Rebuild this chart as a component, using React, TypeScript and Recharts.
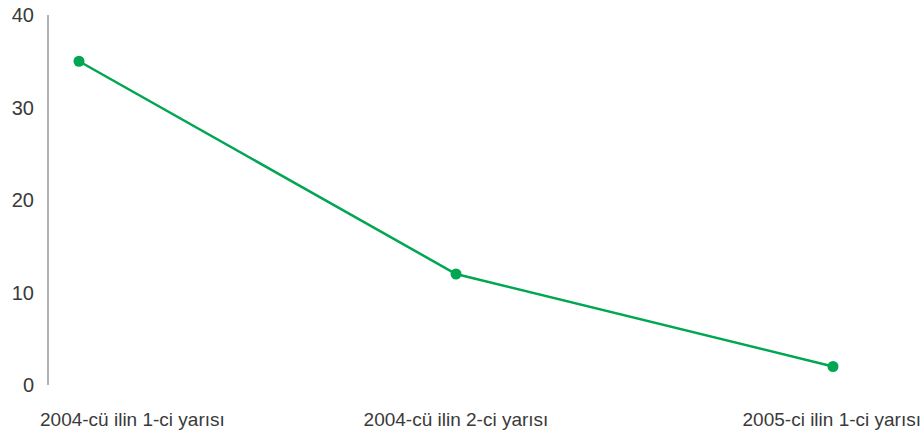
import { Line, LineChart, XAxis, YAxis } from "recharts";

const periods = ["2004-cü ilin 1-ci yarısı", "2004-cü ilin 2-ci yarısı", "2005-ci ilin 1-ci yarısı"];
const values = [35, 12, 2];
const yTicks = [0, 10, 20, 30, 40];

const data = periods.map((p, i) => ({ period: p, value: values[i] }));

const W = 923;
const H = 434;

function PeriodTick(props: any) {
  const { x, y, payload, index } = props;
  const last = periods.length - 1;
  let anchor: "start" | "middle" | "end" = "middle";
  let tx = x;
  if (index === 0) {
    anchor = "start";
    tx = 40;
  } else if (index === last) {
    anchor = "end";
    tx = W - 2;
  }
  return (
    <text x={tx} y={y + 33} textAnchor={anchor} fill="#3a3a3a" fontSize={19} fontFamily="'Liberation Sans', Arial, sans-serif">
      {payload.value}
    </text>
  );
}

export default function App() {
  return (
    <div style={{ position: "absolute", left: 0, top: 0, width: W, height: H, background: "#fff" }}>
      <LineChart width={W} height={H} data={data} margin={{ top: 15, right: 0, bottom: 0, left: 0 }}>
        <XAxis
          dataKey="period"
          axisLine={false}
          tickLine={false}
          height={49}
          padding={{ left: 31, right: 90 }}
          tick={<PeriodTick />}
          interval={0}
        />
        <YAxis
          domain={[0, 40]}
          ticks={yTicks}
          width={48}
          axisLine={{ stroke: "#666", strokeWidth: 1 }}
          tickLine={false}
          tickSize={0}
          tickMargin={14}
          tick={{ fill: "#3a3a3a", fontSize: 20, fontFamily: "'Liberation Sans', Arial, sans-serif" }}
        />
        <Line
          type="linear"
          dataKey="value"
          stroke="#00a651"
          strokeWidth={2.5}
          dot={{ r: 5.5, fill: "#00a651", stroke: "#00a651", strokeWidth: 0 }}
          isAnimationActive={false}
        />
      </LineChart>
    </div>
  );
}
